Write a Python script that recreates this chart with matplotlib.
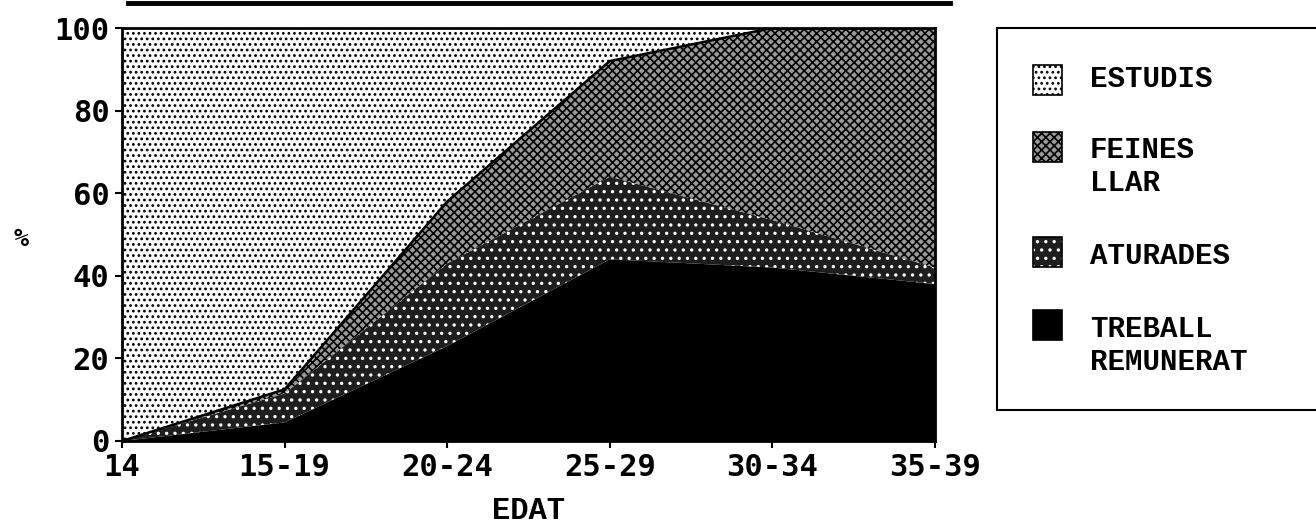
import numpy as np
import matplotlib
matplotlib.use("Agg")
import matplotlib.pyplot as plt
from matplotlib.lines import Line2D
from matplotlib.patches import Rectangle

# ---- data -------------------------------------------------------------
edats = ["14", "15-19", "20-24", "25-29", "30-34", "35-39"]
treball = [0, 4.5, 23, 44, 42, 38]
aturades = [0, 7, 20, 20, 11.5, 4]
feines = [0, 1, 15, 28, 46.5, 58]
estudis = [100, 87.5, 42, 8, 0, 0]
series_labels = ["TREBALL\nREMUNERAT", "ATURADES", "FEINES\nLLAR", "ESTUDIS"]
yticks = [0, 20, 40, 60, 80, 100]

# ---- styles -----------------------------------------------------------
faces = ["#000000", "#1e1e1e", "#9a9a9a", "#ffffff"]
hatch_cols = ["#000000", "#ffffff", "#000000", "#000000"]
hatches = [None, "..", "xxxx", "..."]

W, H = 1316, 532
def fx(px):
    return px / W
def fy(py):
    return 1 - py / H

plt.rcParams["hatch.linewidth"] = 1.2
fig = plt.figure(figsize=(13.16, 5.32), dpi=100)
ax = fig.add_axes([fx(122), fy(441), (935 - 122) / W, (441 - 28) / H])

x = np.arange(len(edats))
polys = ax.stackplot(x, treball, aturades, feines, estudis, colors=faces)
for p, h, hc in zip(polys, hatches, hatch_cols):
    p.set_linewidth(0)
    if h:
        p.set_hatch(h)
        p.set_edgecolor(hc)

cum = np.cumsum(np.vstack([treball, aturades, feines]), axis=0)
ax.plot(x, cum[2], color="black", lw=1.8)

ax.set_xlim(0, len(edats) - 1)
ax.set_ylim(0, 100)
ax.set_xticks(x)
ax.set_xticklabels(edats)
ax.set_yticks(yticks)
ax.set_yticklabels([str(v) for v in yticks])
for lab in ax.get_xticklabels() + ax.get_yticklabels():
    lab.set_fontfamily("DejaVu Sans Mono")
    lab.set_fontweight("bold")
    lab.set_fontsize(22)
ax.tick_params(axis="both", direction="out", length=5, width=1.5, color="black", pad=4)
for s in ax.spines.values():
    s.set_linewidth(2)
    s.set_color("black")

ax.set_xlabel("EDAT", fontfamily="Liberation Mono", fontweight="bold", fontsize=22, labelpad=10)
fig.text(fx(21), fy(239), "%", fontfamily="DejaVu Sans Mono", fontweight="bold",
         fontsize=18, ha="center", va="center")

# top rule
fig.add_artist(Line2D([fx(128), fx(950)], [fy(3), fy(3)], color="black", lw=3.5))

# legend (drawn in figure pixel positions)
fig.add_artist(Rectangle((fx(997), fy(410)), fx(1340) - fx(997), fy(28) - fy(410),
                         transform=fig.transFigure, facecolor="white",
                         edgecolor="black", lw=1.5, clip_on=False))
leg_order = [3, 2, 1, 0]
sq_top = [65, 132, 237, 310]
txt_y = [79, 149, 256, 328]   # centre of first text line (px)
line_px = 35
for i, top, ty in zip(leg_order, sq_top, txt_y):
    fig.add_artist(Rectangle((fx(1033), fy(top + 30)), fx(1062) - fx(1033), fy(top) - fy(top + 30),
                             transform=fig.transFigure, facecolor=faces[i],
                             edgecolor=hatch_cols[i] if hatches[i] else "black",
                             hatch=hatches[i], lw=0))
    fig.add_artist(Rectangle((fx(1033), fy(top + 30)), fx(1062) - fx(1033), fy(top) - fy(top + 30),
                             transform=fig.transFigure, facecolor="none",
                             edgecolor="black", lw=1.2))
    nlines = series_labels[i].count("\n") + 1
    cy = ty + (nlines - 1) * line_px / 2
    fig.text(fx(1090), fy(cy), series_labels[i], fontfamily="Liberation Mono",
             fontweight="bold", fontsize=21, ha="left", va="center",
             linespacing=1.2)

fig.savefig("out.png", dpi=100)
